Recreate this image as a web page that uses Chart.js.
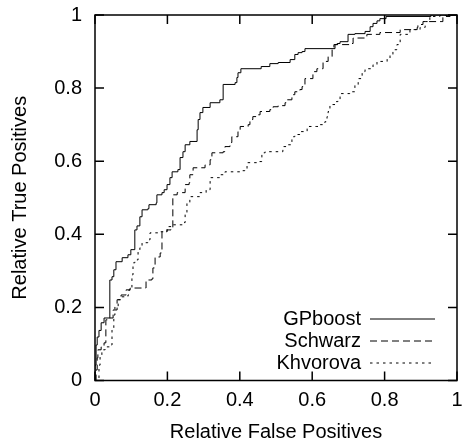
<!DOCTYPE html>
<html>
<head>
<meta charset="utf-8">
<script src="https://cdn.jsdelivr.net/npm/chart.js@4.4.1/dist/chart.umd.min.js"></script>
<style>
  html, body { margin: 0; padding: 0; background: #fff; }
  canvas { display: block; }
</style>
</head>
<body>
<canvas id="rocChart" width="465" height="444"></canvas>
<script>
// ROC curves (false positive rate, true positive rate)
const seriesNames = ['GPboost', 'Schwarz', 'Khvorova'];

const gpFpr = [0, 0, 0.003, 0.006, 0.011, 0.017, 0.025, 0.041, 0.047, 0.052, 0.058, 0.075, 0.091, 0.099,
  0.110, 0.116, 0.124, 0.130, 0.146, 0.149, 0.169, 0.171, 0.185, 0.191, 0.199, 0.207, 0.213, 0.229,
  0.235, 0.243, 0.249, 0.262, 0.282, 0.285, 0.290, 0.298, 0.318, 0.345, 0.354, 0.387, 0.392, 0.395,
  0.403, 0.459, 0.483, 0.506, 0.539, 0.552, 0.561, 0.572, 0.580, 0.663, 0.669, 0.677, 0.699, 0.718,
  0.746, 0.760, 0.768, 0.779, 0.787, 0.804, 0.928, 1];
const gpTpr = [0, 0.042, 0.097, 0.119, 0.137, 0.158, 0.171, 0.275, 0.284, 0.303, 0.325, 0.336, 0.344, 0.358,
  0.412, 0.423, 0.448, 0.467, 0.470, 0.481, 0.486, 0.508, 0.514, 0.522, 0.536, 0.555, 0.571, 0.577,
  0.610, 0.626, 0.645, 0.654, 0.686, 0.714, 0.733, 0.747, 0.760, 0.768, 0.810, 0.815, 0.829, 0.842,
  0.853, 0.859, 0.867, 0.870, 0.878, 0.892, 0.897, 0.900, 0.908, 0.919, 0.922, 0.927, 0.947, 0.949,
  0.955, 0.968, 0.977, 0.984, 0.990, 0.996, 1, 1];

const swFpr = [0, 0.003, 0.006, 0.008, 0.017, 0.025, 0.030, 0.041, 0.050, 0.061, 0.072, 0.086, 0.097, 0.141,
  0.157, 0.160, 0.166, 0.180, 0.185, 0.199, 0.210, 0.215, 0.227, 0.249, 0.260, 0.262, 0.271, 0.304,
  0.318, 0.323, 0.354, 0.359, 0.373, 0.378, 0.395, 0.401, 0.423, 0.428, 0.436, 0.450, 0.456, 0.483,
  0.492, 0.506, 0.525, 0.530, 0.544, 0.552, 0.566, 0.572, 0.580, 0.602, 0.613, 0.630, 0.644, 0.655,
  0.660, 0.704, 0.713, 0.746, 0.751, 0.787, 0.834, 0.843, 0.890, 0.892, 0.906, 0.956, 0.961, 0.981, 1];
const swTpr = [0, 0.029, 0.062, 0.084, 0.092, 0.103, 0.166, 0.171, 0.193, 0.221, 0.234, 0.248, 0.253, 0.275,
  0.278, 0.308, 0.338, 0.349, 0.407, 0.412, 0.418, 0.508, 0.514, 0.536, 0.541, 0.563, 0.582, 0.590,
  0.604, 0.623, 0.626, 0.640, 0.651, 0.667, 0.681, 0.695, 0.700, 0.714, 0.722, 0.727, 0.736, 0.741,
  0.749, 0.752, 0.760, 0.768, 0.782, 0.790, 0.796, 0.804, 0.826, 0.845, 0.853, 0.873, 0.886, 0.908,
  0.919, 0.922, 0.937, 0.938, 0.947, 0.952, 0.952, 0.960, 0.966, 0.974, 0.982, 0.982, 0.996, 0.999, 1];

const khFpr = [0, 0.008, 0.011, 0.014, 0.019, 0.028, 0.041, 0.047, 0.052, 0.055, 0.064, 0.072, 0.091, 0.094,
  0.102, 0.105, 0.110, 0.119, 0.124, 0.130, 0.146, 0.152, 0.174, 0.199, 0.215, 0.246, 0.249, 0.254,
  0.262, 0.290, 0.307, 0.318, 0.340, 0.345, 0.359, 0.401, 0.414, 0.420, 0.450, 0.461, 0.470, 0.519,
  0.533, 0.544, 0.552, 0.566, 0.586, 0.613, 0.622, 0.635, 0.641, 0.644, 0.649, 0.663, 0.671, 0.677,
  0.704, 0.718, 0.727, 0.738, 0.746, 0.768, 0.779, 0.807, 0.815, 0.823, 0.834, 0.843, 0.870, 0.898,
  0.912, 0.925, 0.953, 1];
const khTpr = [0, 0, 0.042, 0.070, 0.084, 0.092, 0.097, 0.138, 0.179, 0.201, 0.221, 0.229, 0.234, 0.248,
  0.289, 0.322, 0.330, 0.352, 0.363, 0.377, 0.385, 0.404, 0.407, 0.421, 0.426, 0.432, 0.459, 0.486,
  0.503, 0.514, 0.522, 0.555, 0.555, 0.563, 0.571, 0.574, 0.577, 0.596, 0.599, 0.623, 0.626, 0.640,
  0.645, 0.667, 0.673, 0.681, 0.695, 0.695, 0.700, 0.708, 0.722, 0.736, 0.755, 0.763, 0.768, 0.785,
  0.790, 0.810, 0.826, 0.845, 0.853, 0.864, 0.873, 0.881, 0.892, 0.905, 0.919, 0.947, 0.960, 0.966,
  0.982, 0.996, 0.999, 1];

const xTickLabels = ['0', '0.2', '0.4', '0.6', '0.8', '1'];
const yTickLabels = ['0', '0.2', '0.4', '0.6', '0.8', '1'];

const FONT = '"Liberation Sans", Arial, Helvetica, sans-serif';
Chart.defaults.font.family = FONT;
Chart.defaults.font.size = 20;
Chart.defaults.color = '#000';

function toPoints(xs, ys) {
  return xs.map((x, i) => ({ x: x, y: ys[i] }));
}

// the tick labels may hang over the plot edge, like in the original
function noOverhang(s) {
  s.paddingTop = 0;
  s.paddingBottom = 0;
  s.paddingLeft = 0;
  s.paddingRight = 0;
}

const dashes = [[], [7, 4], [2.5, 4]];

// frame, inward ticks on all four sides, and the legend inside the plot
const framePlugin = {
  id: 'framePlugin',
  afterDatasetsDraw(chart) {
    const { ctx, chartArea: a, scales: { x, y } } = chart;
    const tl = 9;
    ctx.save();
    ctx.strokeStyle = '#000';
    ctx.lineWidth = 1.5;
    ctx.beginPath();
    x.ticks.forEach(t => {
      const px = x.getPixelForValue(t.value);
      ctx.moveTo(px, a.bottom); ctx.lineTo(px, a.bottom - tl);
      ctx.moveTo(px, a.top); ctx.lineTo(px, a.top + tl);
    });
    y.ticks.forEach(t => {
      const py = y.getPixelForValue(t.value);
      ctx.moveTo(a.left, py); ctx.lineTo(a.left + tl, py);
      ctx.moveTo(a.right, py); ctx.lineTo(a.right - tl, py);
    });
    ctx.stroke();
    ctx.strokeRect(a.left, a.top, a.right - a.left, a.bottom - a.top);

    // legend
    const textRight = a.right - 96;
    const lineStart = a.right - 87;
    const lineEnd = a.right - 22;
    const rowTop = a.bottom - 62;
    const rowGap = 22;
    ctx.font = '20px ' + FONT;
    ctx.textAlign = 'right';
    ctx.textBaseline = 'middle';
    ctx.fillStyle = '#000';
    chart.data.datasets.forEach((ds, i) => {
      const ry = rowTop + i * rowGap;
      ctx.fillText(ds.label, textRight, ry + 1);
      ctx.beginPath();
      ctx.lineWidth = 1;
      ctx.setLineDash(ds.borderDash || []);
      ctx.moveTo(lineStart, ry + 0.5);
      ctx.lineTo(lineEnd, ry + 0.5);
      ctx.stroke();
      ctx.setLineDash([]);
    });
    ctx.restore();
  }
};

const seriesData = [toPoints(gpFpr, gpTpr), toPoints(swFpr, swTpr), toPoints(khFpr, khTpr)];

new Chart(document.getElementById('rocChart'), {
  type: 'line',
  data: {
    datasets: seriesNames.map((name, i) => ({
      label: name,
      data: seriesData[i],
      stepped: 'before',
      borderColor: '#000',
      borderWidth: 1,
      borderDash: dashes[i],
      pointRadius: 0,
      fill: false
    }))
  },
  options: {
    responsive: false,
    animation: false,
    layout: { padding: { top: 15, right: 8, left: 0, bottom: 0 } },
    plugins: {
      legend: { display: false },
      tooltip: { enabled: false }
    },
    scales: {
      x: {
        type: 'linear',
        min: 0,
        max: 1,
        grid: { display: false, drawTicks: false },
        border: { display: false },
        ticks: {
          stepSize: 0.2,
          padding: 8,
          maxRotation: 0,
          callback: (v, i) => xTickLabels[i]
        },
        title: {
          display: true,
          text: 'Relative False Positives',
          padding: { top: 0, bottom: 0 }
        },
        afterFit: s => { s.height = 63.5; noOverhang(s); }
      },
      y: {
        type: 'linear',
        min: 0,
        max: 1,
        grid: { display: false, drawTicks: false },
        border: { display: false },
        ticks: {
          stepSize: 0.2,
          padding: 13,
          callback: (v, i) => yTickLabels[i]
        },
        title: {
          display: true,
          text: 'Relative True Positives',
          padding: { top: 8, bottom: 0 }
        },
        afterFit: s => { s.width = 95; noOverhang(s); }
      }
    }
  },
  plugins: [framePlugin]
});
</script>
</body>
</html>
